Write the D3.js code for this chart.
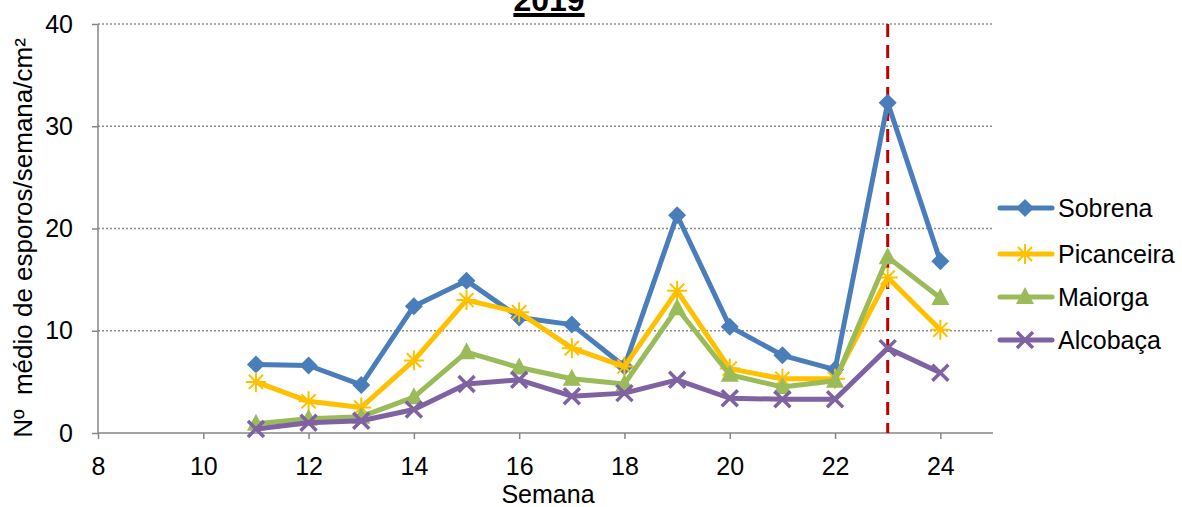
<!DOCTYPE html>
<html>
<head>
<meta charset="utf-8">
<script src="https://cdn.jsdelivr.net/npm/d3@7"></script>
<style>
  body { margin: 0; background: #fff; }
  text { font-family: "Liberation Sans", Arial, sans-serif; }
</style>
</head>
<body>
<div id="chart"></div>
<script>
const weeks = [11, 12, 13, 14, 15, 16, 17, 18, 19, 20, 21, 22, 23, 24];
const sobrena    = [6.7, 6.6, 4.7, 12.4, 14.9, 11.3, 10.6, 6.5, 21.3, 10.4, 7.6, 6.2, 32.3, 16.8];
const picanceira = [5.0, 3.1, 2.5, 7.1, 13.0, 11.8, 8.3, 6.5, 13.9, 6.3, 5.3, 5.3, 15.2, 10.1];
const maiorga    = [0.9, 1.4, 1.6, 3.5, 7.9, 6.4, 5.3, 4.8, 12.2, 5.7, 4.5, 5.1, 17.2, 13.2];
const alcobaca   = [0.4, 1.0, 1.2, 2.3, 4.8, 5.2, 3.6, 3.9, 5.2, 3.4, 3.3, 3.3, 8.3, 5.9];
const seriesNames = ['Sobrena', 'Picanceira', 'Maiorga', 'Alcobaça'];
const xTicks = [8, 10, 12, 14, 16, 18, 20, 22, 24];
const yTicks = [0, 10, 20, 30, 40];
const markWeek = 23;

const w = 1182;
const h = 507;
const padLeft = 98, padRight = 993, padTop = 24, padBottom = 433;

const svg = d3.select('#chart').append('svg')
    .attr('width', w)
    .attr('height', h);

const x = d3.scaleLinear().domain([8, 25]).range([padLeft, padRight]);
const y = d3.scaleLinear().domain([0, 40]).range([padBottom, padTop]);

// gridlines
svg.append('g')
   .selectAll('line')
   .data(yTicks.filter(d => d > 0))
   .enter()
   .append('line')
   .attr('x1', padLeft).attr('x2', padRight)
   .attr('y1', d => y(d)).attr('y2', d => y(d))
   .attr('stroke', '#8c8c8c')
   .attr('stroke-width', 1.3)
   .attr('stroke-dasharray', '2,2');

// axes
const yAxis = d3.axisLeft(y).tickValues(yTicks).tickSize(6).tickPadding(19);
const xAxis = d3.axisBottom(x).tickValues(xTicks).tickSize(6).tickPadding(18);

const gy = svg.append('g').attr('transform', 'translate(' + padLeft + ',0)').call(yAxis);
const gx = svg.append('g').attr('transform', 'translate(0,' + padBottom + ')').call(xAxis);
[gx, gy].forEach(g => {
    g.select('.domain').attr('stroke', '#868686').attr('stroke-width', 1.5);
    g.selectAll('.tick line').attr('stroke', '#868686').attr('stroke-width', 1.5);
    g.selectAll('.tick text').attr('fill', '#000').style('font-size', '25px')
     .style('font-family', '"Liberation Sans", Arial, sans-serif');
});
gy.select('.domain').attr('d', 'M0,' + padTop + 'V' + padBottom);
gx.select('.domain').attr('d', 'M' + padLeft + ',0H' + padRight);

// red dashed line
svg.append('line')
   .attr('x1', x(markWeek)).attr('x2', x(markWeek))
   .attr('y1', padTop).attr('y2', padBottom)
   .attr('stroke', '#C00000')
   .attr('stroke-width', 3)
   .attr('stroke-dasharray', '13,8');

const colors = ['#4A7EBB', '#FFC000', '#9BBB59', '#7F62A1'];
const allData = [sobrena, picanceira, maiorga, alcobaca];

const drawMarker = (g, i, cx, cy) => {
    const c = colors[i];
    if (i === 0) {
        const r = 9;
        g.append('path')
         .attr('d', 'M' + cx + ',' + (cy - r) + 'L' + (cx + r) + ',' + cy + 'L' + cx + ',' + (cy + r) + 'L' + (cx - r) + ',' + cy + 'Z')
         .attr('fill', c);
    } else if (i === 1) {
        const r = 10;
        const p = [];
        [0, 45, 90, 135].forEach(a => {
            const t = a * Math.PI / 180;
            p.push('M' + (cx - r * Math.cos(t)) + ',' + (cy - r * Math.sin(t)) + 'L' + (cx + r * Math.cos(t)) + ',' + (cy + r * Math.sin(t)));
        });
        g.append('path').attr('d', p.join('')).attr('stroke', c).attr('stroke-width', 2);
    } else if (i === 2) {
        const r = 9;
        g.append('path')
         .attr('d', 'M' + cx + ',' + (cy - r - 1) + 'L' + (cx + r) + ',' + (cy + r - 2) + 'L' + (cx - r) + ',' + (cy + r - 2) + 'Z')
         .attr('fill', c);
    } else {
        const r = 8;
        g.append('path')
         .attr('d', 'M' + (cx - r) + ',' + (cy - r) + 'L' + (cx + r) + ',' + (cy + r) + 'M' + (cx - r) + ',' + (cy + r) + 'L' + (cx + r) + ',' + (cy - r))
         .attr('stroke', c).attr('stroke-width', 3.5);
    }
};

const line = d3.line().x(d => x(d[0])).y(d => y(d[1]));

allData.forEach((vals, i) => {
    const pts = weeks.map((wk, j) => [wk, vals[j]]);
    const g = svg.append('g');
    g.append('path')
     .attr('d', line(pts))
     .attr('fill', 'none')
     .attr('stroke', colors[i])
     .attr('stroke-width', 5)
     .attr('stroke-linejoin', 'round');
    pts.forEach(p => drawMarker(g, i, x(p[0]), y(p[1])));
});

// legend
const legendY = [208, 254, 297, 340];
seriesNames.forEach((name, i) => {
    const g = svg.append('g');
    g.append('line')
     .attr('x1', 1000).attr('x2', 1052)
     .attr('y1', legendY[i]).attr('y2', legendY[i])
     .attr('stroke', colors[i]).attr('stroke-width', 5).attr('stroke-linecap', 'round');
    drawMarker(g, i, 1025, legendY[i]);
    g.append('text')
     .attr('x', 1058).attr('y', legendY[i] + 9)
     .style('font-size', '25px')
     .text(name);
});

// title (cut off at the top, as in the original)
const title = svg.append('text')
   .attr('x', 549).attr('y', 11)
   .attr('text-anchor', 'middle')
   .style('font-size', '32px')
   .style('font-weight', 'bold')
   .text('2019');
const tw = title.node().getComputedTextLength();
svg.append('rect')
   .attr('x', 549 - tw / 2).attr('y', 13)
   .attr('width', tw).attr('height', 4)
   .attr('fill', '#000');

// axis titles
svg.append('text')
   .attr('x', 548).attr('y', 503)
   .attr('text-anchor', 'middle')
   .style('font-size', '25px')
   .text('Semana');

svg.append('text')
   .attr('transform', 'translate(32,238) rotate(-90)')
   .attr('text-anchor', 'middle')
   .style('font-size', '26px')
   .attr('xml:space', 'preserve')
   .text('Nº  médio de esporos/semana/cm²');
</script>
</body>
</html>
